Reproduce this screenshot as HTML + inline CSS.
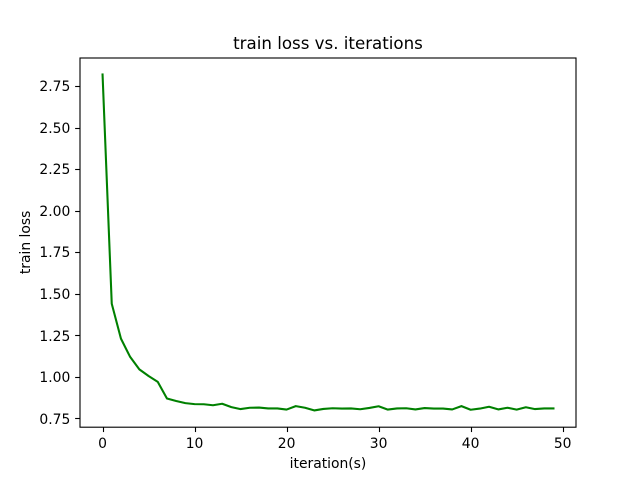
<!DOCTYPE html>
<html>
<head>
<meta charset="utf-8">
<title>train loss vs. iterations</title>
<style>
html,body{margin:0;padding:0;background:#fff;width:640px;height:480px;overflow:hidden}
svg{display:block}
text{font-family:"DejaVu Sans","Liberation Sans",sans-serif;fill:#000}
</style>
</head>
<body>
<svg id="chart" width="640" height="480" viewBox="0 0 640 480" xmlns="http://www.w3.org/2000/svg">
<rect x="0" y="0" width="640" height="480" fill="#fff"/>
<text x="328" y="49" text-anchor="middle" style="font-size:16.67px">train loss vs. iterations</text>
<text x="328" y="468" text-anchor="middle" style="font-size:13.89px">iteration(s)</text>
<text transform="translate(30,242.4) rotate(-90)" text-anchor="middle" style="font-size:13.89px">train loss</text>
<g id="plot"></g>
</svg>
<script>
const iterations = [0,1,2,3,4,5,6,7,8,9,10,11,12,13,14,15,16,17,18,19,20,21,22,23,24,25,26,27,28,29,30,31,32,33,34,35,36,37,38,39,40,41,42,43,44,45,46,47,48,49];
const trainLoss = [2.82,1.44,1.23,1.12,1.045,1.005,0.97,0.87,0.855,0.842,0.836,0.835,0.829,0.838,0.818,0.806,0.814,0.815,0.81,0.81,0.803,0.824,0.814,0.798,0.807,0.811,0.809,0.81,0.805,0.813,0.823,0.803,0.81,0.811,0.804,0.812,0.809,0.809,0.804,0.824,0.802,0.809,0.82,0.804,0.814,0.803,0.817,0.806,0.81,0.81];
const xTicks = [0,10,20,30,40,50];
const yTicks = [0.75,1.00,1.25,1.50,1.75,2.00,2.25,2.50,2.75];
const yTickLabels = ['0.75','1.00','1.25','1.50','1.75','2.00','2.25','2.50','2.75'];

const NS = 'http://www.w3.org/2000/svg';
const plot = document.getElementById('plot');
const left = 80, right = 576, top_ = 57.6, bottom = 427.2;
const xMin = -2.45, xMax = 51.45;
const yMin = 0.697, yMax = 2.9215;
function xScale(v){ return left + (v - xMin) / (xMax - xMin) * (right - left); }
function yScale(v){ return bottom - (v - yMin) / (yMax - yMin) * (bottom - top_); }
function make(tag, attrs){
  const el = document.createElementNS(NS, tag);
  for (const k in attrs) el.setAttribute(k, attrs[k]);
  plot.appendChild(el);
  return el;
}

const points = iterations.map((x, i) => xScale(x).toFixed(2) + ',' + yScale(trainLoss[i]).toFixed(2)).join(' ');
const line = make('polyline', {points: points, fill: 'none', stroke: '#008000', 'stroke-width': 2.08, 'stroke-linejoin': 'round', 'stroke-linecap': 'square'});



xTicks.forEach(function(t){
  const px = Math.round(xScale(t)) + 0.5;
  const tick = make('line', {x1: px, x2: px, y1: bottom, y2: bottom + 4.86, stroke: '#000', 'stroke-width': 1.11});
  
  
  const label = make('text', {x: xScale(t), y: 448, 'text-anchor': 'middle', style: 'font-size:13.89px'});
  
  
  label.textContent = String(t);
});

yTicks.forEach(function(t, i){
  const py = Math.round(yScale(t)) + 0.5;
  const tick = make('line', {x1: left - 4.86, x2: left, y1: py, y2: py, stroke: '#000', 'stroke-width': 1.11});
  
  
  const label = make('text', {x: 70.3, y: Math.round(yScale(t) + 5.2), 'text-anchor': 'end', style: 'font-size:13.89px'});
  
  
  label.textContent = yTickLabels[i];
});

const frame = make('rect', {x: left, y: top_ + 0.4, width: right - left, height: bottom - top_ - 0.4, fill: 'none', stroke: '#000', 'stroke-width': 1.11});


</script>
</body>
</html>
